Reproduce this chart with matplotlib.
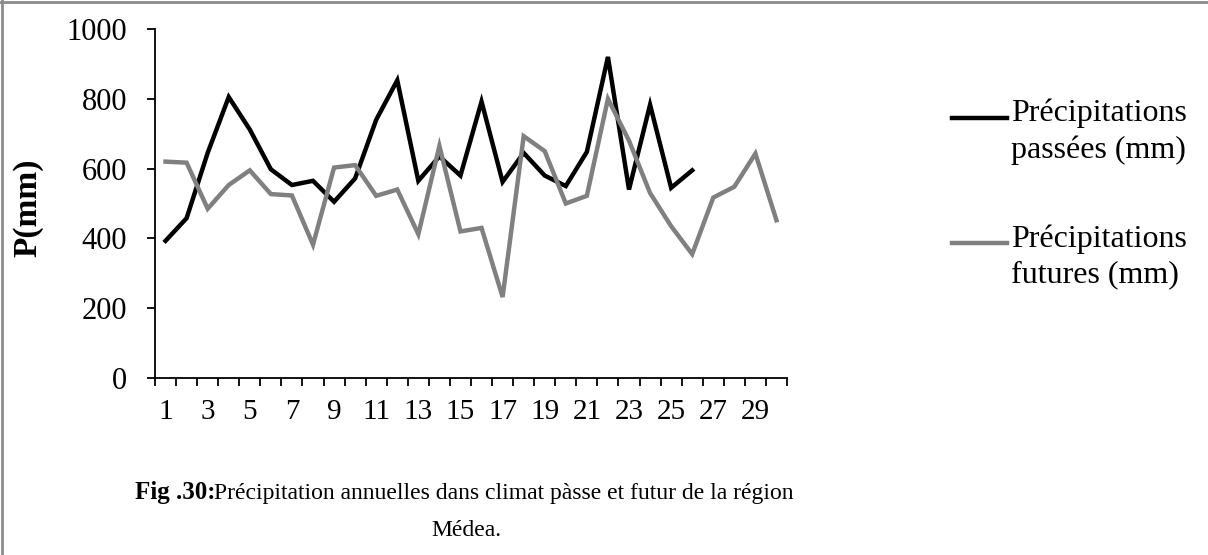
import matplotlib
matplotlib.use("Agg")
import matplotlib.pyplot as plt
from matplotlib.lines import Line2D
import numpy as np

plt.rcParams['font.family'] = ['Liberation Serif', 'DejaVu Serif']

years_past = list(range(1, 27))
years_future = list(range(1, 31))
precip_past = [393, 458, 645, 805, 712, 598, 553, 565, 505, 572, 740, 853, 565,
               635, 580, 792, 562, 645, 580, 550, 648, 920, 540, 783, 545, 595]
precip_future = [620, 617, 485, 553, 595, 527, 523, 382, 603, 610, 522, 540, 412,
                 665, 420, 430, 232, 693, 650, 500, 522, 800, 680, 530, 435, 355,
                 517, 548, 643, 452]
x_labels = [str(i) for i in years_future]
label_past = "Précipitations\npassées (mm)"
label_future = "Précipitations\nfutures (mm)"
c_past = "#000000"
c_future = "#808080"

fig = plt.figure(figsize=(12.08, 5.55), dpi=100)
ax = fig.add_axes([155/1208, 1 - 378/555, (787 - 155)/1208, (378 - 29)/555])

ax.plot(years_past, precip_past, color=c_past, lw=3.2, solid_joinstyle='miter')
ax.plot(years_future, precip_future, color=c_future, lw=3.2, solid_joinstyle='miter')

ax.set_xlim(0.5, 30.5)
ax.set_ylim(0, 1000)
ax.set_yticks(np.arange(0, 1001, 200))
ax.tick_params(axis='y', labelsize=22, length=6, width=1.3, direction='out', pad=14)

# category ticks sit between points, labels on every other point
ax.set_xticks(np.arange(0.5, 31, 1))
ax.set_xticklabels([])
ax.set_xticks(years_future[::2], minor=True)
ax.set_xticklabels(x_labels[::2], minor=True)
ax.tick_params(axis='x', which='major', length=6, width=1.3, direction='out')
ax.tick_params(axis='x', which='minor', length=0, labelsize=21, pad=15)

for s in ['top', 'right']:
    ax.spines[s].set_visible(False)
for s in ['left', 'bottom']:
    ax.spines[s].set_linewidth(1.3)

fig.text(28/1208, 1 - 208/555, "P(mm)", rotation=90, fontsize=24, fontweight='bold',
         ha='center', va='center')

# legend drawn by hand so the line sits on the first text row
for lab, col, ytop in [(label_past, c_past, 118), (label_future, c_future, 243)]:
    fig.add_artist(Line2D([952/1208, 1007/1208], [1 - ytop/555] * 2, color=col, lw=3.2,
                          transform=fig.transFigure))
    fig.text(1011/1208, 1 - (ytop - 19)/555, lab, fontsize=23, ha='left', va='top',
             linespacing=1.3)

fig.text(135/1208, 1 - 493/555, "Fig .30:", fontsize=18, fontweight='bold',
         ha='left', va='center')
fig.text(214/1208, 1 - 493/555, "Précipitation annuelles dans climat pàsse et futur de la région",
         fontsize=17, ha='left', va='center')
fig.text(466/1208, 1 - 530/555, "Médea.", fontsize=17, ha='center', va='center')

# frame lines at the top and left edge
fig.add_artist(Line2D([0, 1], [1 - 2/555] * 2, color='#8c8c8c', lw=2, transform=fig.transFigure))
fig.add_artist(Line2D([2/1208] * 2, [0, 1], color='#8c8c8c', lw=2, transform=fig.transFigure))

fig.savefig("out.png", dpi=100)
